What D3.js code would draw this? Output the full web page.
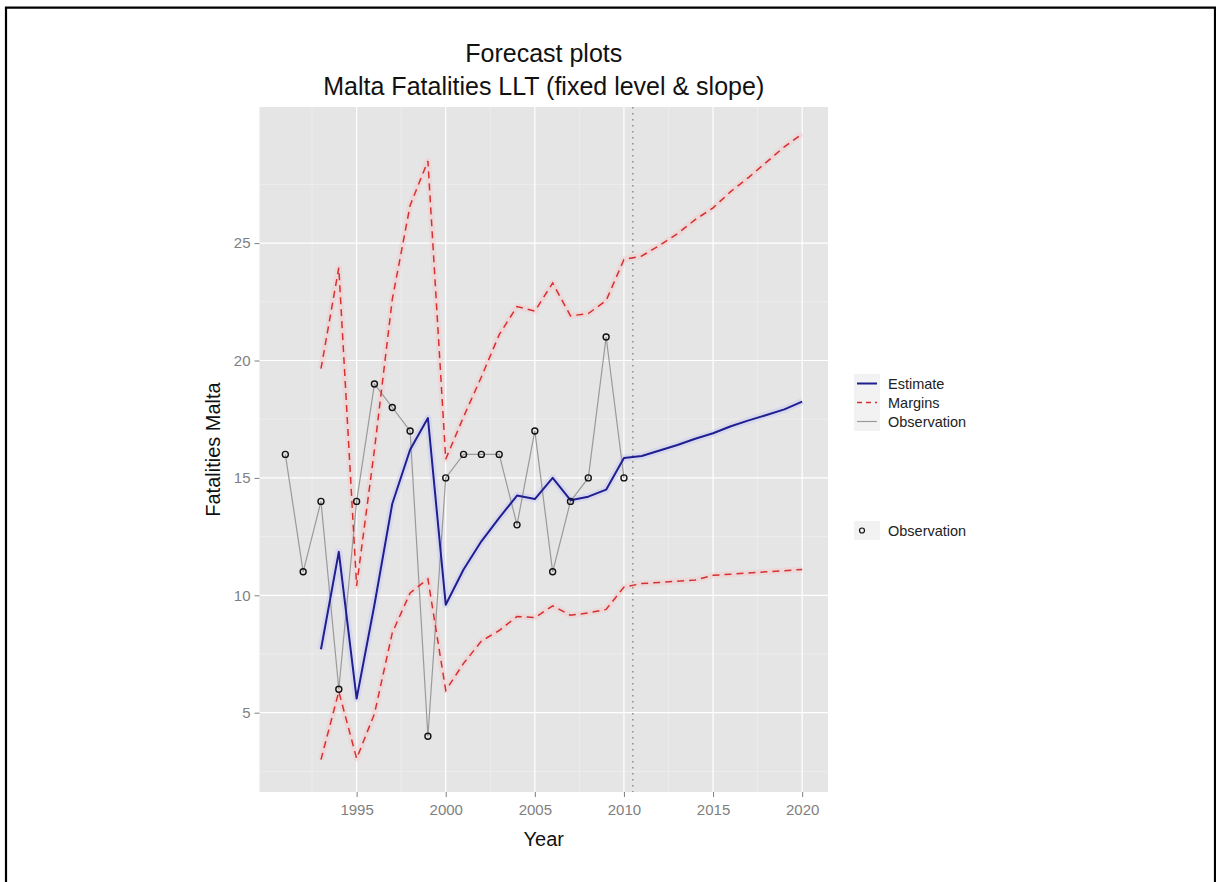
<!DOCTYPE html>
<html>
<head>
<meta charset="utf-8">
<script src="https://cdn.jsdelivr.net/npm/d3@7"></script>
<style>
  html, body { margin: 0; padding: 0; background: #fff; }
  svg { display: block; font-family: "Liberation Sans", Arial, sans-serif; }
</style>
</head>
<body>
<svg id="chart" width="1216" height="882"></svg>
<script>
// ---------- data ----------
const obsYears = [1991,1992,1993,1994,1995,1996,1997,1998,1999,2000,2001,2002,2003,2004,2005,2006,2007,2008,2009,2010];
const obsValues = [16,11,14,6,14,19,18,17,4,15,16,16,16,13,17,11,14,15,21,15];

const fcYears = [1993,1994,1995,1996,1997,1998,1999,2000,2001,2002,2003,2004,2005,2006,2007,2008,2009,2010,2011,2012,2013,2014,2015,2016,2017,2018,2019,2020];
const estimate = [7.7,11.85,5.6,9.6,13.9,16.2,17.55,9.6,11.1,12.3,13.3,14.25,14.1,15.0,14.05,14.2,14.5,15.85,15.93,16.17,16.4,16.67,16.9,17.2,17.45,17.68,17.92,18.25];
const upperMargin = [19.65,23.95,10.4,16.2,22.6,26.6,28.5,15.8,17.6,19.3,21.1,22.3,22.1,23.3,21.9,22.0,22.55,24.3,24.45,24.9,25.4,26.0,26.5,27.2,27.8,28.45,29.1,29.65];
const lowerMargin = [3.0,5.9,3.05,4.95,8.4,10.1,10.7,5.95,7.1,8.05,8.5,9.1,9.05,9.55,9.15,9.25,9.4,10.35,10.5,10.55,10.6,10.65,10.85,10.9,10.95,11.0,11.05,11.1];

const forecastStart = 2010.5;
const xTicks = [1995,2000,2005,2010,2015,2020];
const xMinor = [1992.5,1997.5,2002.5,2007.5,2012.5,2017.5];
const yTicks = [5,10,15,20,25];
const yMinor = [2.5,7.5,12.5,17.5,22.5,27.5];

const titleLines = ["Forecast plots", "Malta Fatalities LLT (fixed level & slope)"];
const xTitle = "Year";
const yTitle = "Fatalities Malta";
const legendLineItems = [
  {label: "Estimate", kind: "estimate"},
  {label: "Margins", kind: "margin"},
  {label: "Observation", kind: "obs"}
];
const legendPointLabel = "Observation";

// ---------- layout ----------
const panel = {left: 259.5, right: 828, top: 107, bottom: 792};
const svg = d3.select("#chart");

const x = d3.scaleLinear().domain([1989.55, 2021.45]).range([panel.left, panel.right]);
const y = d3.scaleLinear().domain([5, 25]).range([712.7, 243.1]);

const RED = "#d43030", BLUE = "#1f1f8f", GREY = "#9a9a9a";

// outer frame
svg.append("path")
  .attr("d", `M6,884 V7.7 H1215 V884`)
  .attr("fill", "none").attr("stroke", "#000").attr("stroke-width", 2.2);

// panel background
svg.append("rect")
  .attr("x", panel.left).attr("y", panel.top)
  .attr("width", panel.right - panel.left).attr("height", panel.bottom - panel.top)
  .attr("fill", "#e5e5e5");

const grid = svg.append("g");
grid.selectAll(".hminor").data(yMinor.filter(v => y(v) > panel.top && y(v) < panel.bottom)).join("line")
  .attr("x1", panel.left).attr("x2", panel.right)
  .attr("y1", d => y(d)).attr("y2", d => y(d))
  .attr("stroke", "#f2f2f2").attr("stroke-width", 0.6);
grid.selectAll(".vminor").data(xMinor).join("line")
  .attr("y1", panel.top).attr("y2", panel.bottom)
  .attr("x1", d => x(d)).attr("x2", d => x(d))
  .attr("stroke", "#f2f2f2").attr("stroke-width", 0.6);
grid.selectAll(".hmajor").data(yTicks).join("line")
  .attr("x1", panel.left).attr("x2", panel.right)
  .attr("y1", d => y(d)).attr("y2", d => y(d))
  .attr("stroke", "#fff").attr("stroke-width", 1.2);
grid.selectAll(".vmajor").data(xTicks).join("line")
  .attr("y1", panel.top).attr("y2", panel.bottom)
  .attr("x1", d => x(d)).attr("x2", d => x(d))
  .attr("stroke", "#fff").attr("stroke-width", 1.2);

// axes
const xAxis = d3.axisBottom(x).tickValues(xTicks).tickFormat(d3.format("d")).tickSizeInner(5).tickSizeOuter(0).tickPadding(4);
const yAxis = d3.axisLeft(y).tickValues(yTicks).tickFormat(d3.format("d")).tickSizeInner(5).tickSizeOuter(0).tickPadding(4);

const gx = svg.append("g").attr("transform", `translate(0,${panel.bottom})`).call(xAxis);
const gy = svg.append("g").attr("transform", `translate(${panel.left},0)`).call(yAxis);
[gx, gy].forEach(g => {
  g.select(".domain").remove();
  g.selectAll(".tick line").attr("stroke", "#7f7f7f").attr("stroke-width", 1);
  g.selectAll(".tick text").attr("fill", "#7f7f7f").attr("font-size", 15)
    .attr("font-family", "Liberation Sans, Arial, sans-serif");
});
gx.selectAll(".tick text").attr("dy", "0.9em");

const lineGen = (vals) => d3.line().x((d, i) => x(fcYears[i])).y(d => y(d))(vals);
const obsLine = d3.line().x((d, i) => x(obsYears[i])).y(d => y(d))(obsValues);

const plot = svg.append("g");
// soft halos (jpeg-like glow)
[upperMargin, lowerMargin].forEach(vals => {
  plot.append("path").attr("d", lineGen(vals)).attr("fill", "none")
    .attr("stroke", "#f4c8c8").attr("stroke-width", 6).attr("opacity", 0.45).attr("stroke-linejoin", "round");
});
plot.append("path").attr("d", lineGen(estimate)).attr("fill", "none")
  .attr("stroke", "#c8c8f4").attr("stroke-width", 7).attr("opacity", 0.45).attr("stroke-linejoin", "round");

// forecast start line
plot.append("line")
  .attr("x1", x(forecastStart)).attr("x2", x(forecastStart))
  .attr("y1", panel.top).attr("y2", panel.bottom)
  .attr("stroke", "#777").attr("stroke-width", 1.2).attr("stroke-dasharray", "1.5,4.5");

// observation line
plot.append("path").attr("d", obsLine).attr("fill", "none")
  .attr("stroke", GREY).attr("stroke-width", 1.2);

// margins
[upperMargin, lowerMargin].forEach(vals => {
  plot.append("path").attr("d", lineGen(vals)).attr("fill", "none")
    .attr("stroke", RED).attr("stroke-width", 1.5).attr("stroke-dasharray", "7,5");
});

// estimate
plot.append("path").attr("d", lineGen(estimate)).attr("fill", "none")
  .attr("stroke", BLUE).attr("stroke-width", 2).attr("stroke-linejoin", "round");

// observation points
plot.selectAll(".obs").data(obsValues).join("circle")
  .attr("cx", (d, i) => x(obsYears[i])).attr("cy", d => y(d))
  .attr("r", 3).attr("fill", "none").attr("stroke", "#111").attr("stroke-width", 1.4);

// titles
const tcx = (panel.left + panel.right) / 2;
svg.append("text").attr("x", tcx).attr("y", 62).attr("text-anchor", "middle")
  .attr("font-size", 25).attr("fill", "#111").text(titleLines[0]);
svg.append("text").attr("x", tcx).attr("y", 95).attr("text-anchor", "middle")
  .attr("font-size", 25).attr("fill", "#111").text(titleLines[1]);

svg.append("text").attr("x", tcx).attr("y", 846).attr("text-anchor", "middle")
  .attr("font-size", 20).attr("fill", "#111").text(xTitle);
svg.append("text").attr("transform", `translate(220,${(panel.top + panel.bottom) / 2}) rotate(-90)`)
  .attr("text-anchor", "middle").attr("font-size", 20).attr("fill", "#111").text(yTitle);

// legend
const lg = svg.append("g");
const keyX = 854, keyW = 26, keyH = 19, firstY = 374;
legendLineItems.forEach((it, i) => {
  const ky = firstY + i * keyH;
  lg.append("rect").attr("x", keyX).attr("y", ky).attr("width", keyW).attr("height", keyH)
    .attr("fill", "#f2f2f2");
  const ln = lg.append("line").attr("x1", keyX + 3).attr("x2", keyX + keyW - 3)
    .attr("y1", ky + keyH / 2).attr("y2", ky + keyH / 2);
  if (it.kind === "estimate") ln.attr("stroke", BLUE).attr("stroke-width", 2);
  else if (it.kind === "margin") ln.attr("stroke", RED).attr("stroke-width", 1.5).attr("stroke-dasharray", "5,4");
  else ln.attr("stroke", GREY).attr("stroke-width", 1.2);
  lg.append("text").attr("x", 888).attr("y", ky + keyH / 2 + 5)
    .attr("font-size", 14.5).attr("fill", "#222").text(it.label);
});
const py = 521;
lg.append("rect").attr("x", keyX).attr("y", py).attr("width", keyW).attr("height", keyH).attr("fill", "#f2f2f2");
lg.append("circle").attr("cx", keyX + 8).attr("cy", py + keyH / 2).attr("r", 2.5)
  .attr("fill", "none").attr("stroke", "#111").attr("stroke-width", 1.2);
lg.append("text").attr("x", 888).attr("y", py + keyH / 2 + 5)
  .attr("font-size", 14.5).attr("fill", "#222").text(legendPointLabel);
</script>
</body>
</html>
